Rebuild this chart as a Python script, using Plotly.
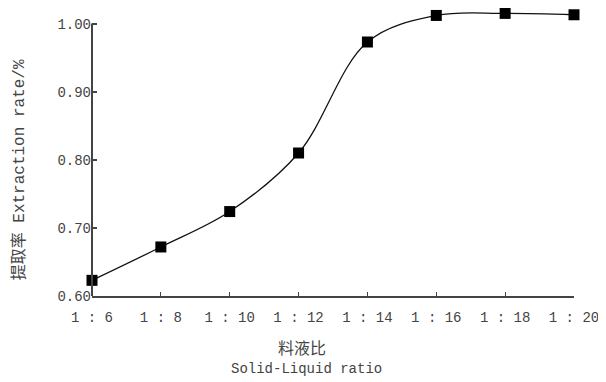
import plotly.graph_objects as go

ratios = [6, 8, 10, 12, 14, 16, 18, 20]
tick_labels = ["1 : 6", "1 : 8", "1 : 10", "1 : 12", "1 : 14", "1 : 16", "1 : 18", "1 : 20"]
extraction = [0.623, 0.672, 0.724, 0.810, 0.973, 1.012, 1.015, 1.013]
y_ticks = [0.60, 0.70, 0.80, 0.90, 1.00]
y_tick_text = ["0.60", "0.70", "0.80", "0.90", "1.00"]

font_main = "Liberation Mono, Noto Sans CJK SC, monospace"

fig = go.Figure()
fig.add_trace(go.Scatter(
    x=ratios, y=extraction, mode="lines+markers",
    line=dict(color="#111111", width=1.3, shape="spline", smoothing=1.0),
    marker=dict(symbol="square", size=11, color="#000000"),
    cliponaxis=False, showlegend=False,
))

# y axis line only up to 1.00
fig.add_shape(type="line", xref="paper", yref="y", x0=0, x1=0, y0=0.60, y1=1.00,
              line=dict(color="#444444", width=2))

fig.update_xaxes(
    range=[6, 20], tickmode="array", tickvals=ratios, ticktext=tick_labels,
    showline=True, linecolor="#444444", linewidth=2,
    ticks="inside", ticklen=4, tickcolor="#444444", tickwidth=1,
    showgrid=False, zeroline=False, automargin=False, ticklabelstandoff=7,
    tickfont=dict(family=font_main, size=14, color="#444444"),
)
fig.update_yaxes(
    range=[0.60, 1.02], tickmode="array", tickvals=y_ticks, ticktext=y_tick_text,
    showline=False, ticks="inside", ticklen=5, tickcolor="#444444", tickwidth=1.5,
    showgrid=False, zeroline=False, automargin=False,
    tickfont=dict(family=font_main, size=14, color="#444444"),
)

fig.add_annotation(text="料液比", xref="paper", yref="paper", x=0.435, y=-0.13,
                   yanchor="top", showarrow=False,
                   font=dict(family="Noto Sans CJK SC", size=16, color="#444444"))
fig.add_annotation(text="Solid-Liquid ratio", xref="paper", yref="paper", x=0.445, y=-0.222,
                   yanchor="top", showarrow=False,
                   font=dict(family=font_main, size=14, color="#444444"))
fig.add_annotation(text="提取率 Extraction rate/%", xref="paper", yref="paper",
                   x=-0.175, y=0.44, textangle=-90, showarrow=False,
                   font=dict(family=font_main, size=16, color="#444444"))

# page body has an 8px margin, so the figure is sized/offset to compensate
fig.update_layout(
    width=598, height=374,
    margin=dict(l=84, r=32, t=2, b=86),
    plot_bgcolor="white", paper_bgcolor="white",
)

fig.write_html("out.html")
